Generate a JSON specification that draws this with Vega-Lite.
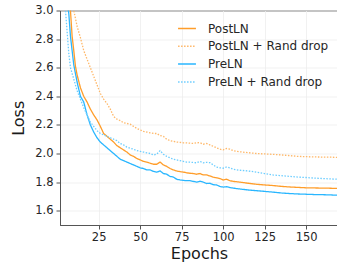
{
  "$schema": "https://vega.github.io/schema/vega-lite/v6.json",
  "autosize": "none",
  "padding": {"left": 60, "top": 10.5, "right": 0, "bottom": 41},
  "width": 278,
  "height": 214.5,
  "background": "white",
  "config": {
    "font": "DejaVu Sans",
    "view": {"stroke": "#555555", "strokeWidth": 1},
    "axis": {"labelFont": "DejaVu Sans", "titleFont": "DejaVu Sans", "labelFontSize": 11.5, "labelColor": "#262626", "titleFontSize": 16, "titleFontWeight": "normal", "titleColor": "#1a1a1a", "gridColor": "#eeeeee", "gridWidth": 0.8, "domainColor": "#555555", "tickColor": "#555555", "domainWidth": 1},
    "legend": {"labelFont": "DejaVu Sans", "labelFontSize": 12, "labelColor": "#262626"}
  },
  "data": {"values": [
    {"series":"PreLN","epoch":2,"loss":3.8},{"series":"PreLN","epoch":4,"loss":3.25},{"series":"PreLN","epoch":6,"loss":3.05},{"series":"PreLN","epoch":7,"loss":2.98},{"series":"PreLN","epoch":8,"loss":2.82},{"series":"PreLN","epoch":9,"loss":2.72},{"series":"PreLN","epoch":10,"loss":2.62},{"series":"PreLN","epoch":12,"loss":2.5},{"series":"PreLN","epoch":14,"loss":2.4},{"series":"PreLN","epoch":16,"loss":2.36},{"series":"PreLN","epoch":18,"loss":2.27},{"series":"PreLN","epoch":20,"loss":2.2},{"series":"PreLN","epoch":22,"loss":2.15},{"series":"PreLN","epoch":24,"loss":2.11},{"series":"PreLN","epoch":26,"loss":2.08},{"series":"PreLN","epoch":28,"loss":2.06},{"series":"PreLN","epoch":30,"loss":2.04},{"series":"PreLN","epoch":32,"loss":2.02},{"series":"PreLN","epoch":34,"loss":2.0},{"series":"PreLN","epoch":36,"loss":1.98},{"series":"PreLN","epoch":38,"loss":1.96},{"series":"PreLN","epoch":40,"loss":1.95},{"series":"PreLN","epoch":42,"loss":1.94},{"series":"PreLN","epoch":44,"loss":1.93},{"series":"PreLN","epoch":46,"loss":1.92},{"series":"PreLN","epoch":48,"loss":1.91},{"series":"PreLN","epoch":50,"loss":1.9},{"series":"PreLN","epoch":52,"loss":1.895},{"series":"PreLN","epoch":54,"loss":1.885},{"series":"PreLN","epoch":56,"loss":1.885},{"series":"PreLN","epoch":58,"loss":1.875},{"series":"PreLN","epoch":60,"loss":1.87},{"series":"PreLN","epoch":62,"loss":1.878},{"series":"PreLN","epoch":64,"loss":1.86},{"series":"PreLN","epoch":66,"loss":1.855},{"series":"PreLN","epoch":68,"loss":1.84},{"series":"PreLN","epoch":70,"loss":1.835},{"series":"PreLN","epoch":72,"loss":1.82},{"series":"PreLN","epoch":74,"loss":1.815},{"series":"PreLN","epoch":76,"loss":1.812},{"series":"PreLN","epoch":78,"loss":1.81},{"series":"PreLN","epoch":80,"loss":1.81},{"series":"PreLN","epoch":82,"loss":1.805},{"series":"PreLN","epoch":84,"loss":1.8},{"series":"PreLN","epoch":86,"loss":1.806},{"series":"PreLN","epoch":88,"loss":1.8},{"series":"PreLN","epoch":90,"loss":1.79},{"series":"PreLN","epoch":92,"loss":1.792},{"series":"PreLN","epoch":94,"loss":1.782},{"series":"PreLN","epoch":96,"loss":1.78},{"series":"PreLN","epoch":98,"loss":1.77},{"series":"PreLN","epoch":100,"loss":1.765},{"series":"PreLN","epoch":102,"loss":1.768},{"series":"PreLN","epoch":104,"loss":1.762},{"series":"PreLN","epoch":106,"loss":1.758},{"series":"PreLN","epoch":110,"loss":1.752},{"series":"PreLN","epoch":115,"loss":1.745},{"series":"PreLN","epoch":120,"loss":1.74},{"series":"PreLN","epoch":125,"loss":1.735},{"series":"PreLN","epoch":130,"loss":1.73},{"series":"PreLN","epoch":135,"loss":1.724},{"series":"PreLN","epoch":140,"loss":1.72},{"series":"PreLN","epoch":145,"loss":1.717},{"series":"PreLN","epoch":150,"loss":1.715},{"series":"PreLN","epoch":155,"loss":1.713},{"series":"PreLN","epoch":160,"loss":1.712},{"series":"PreLN","epoch":165,"loss":1.71},{"series":"PreLN","epoch":170,"loss":1.708},
    {"series":"PostLN","epoch":2,"loss":3.9},{"series":"PostLN","epoch":4,"loss":3.35},{"series":"PostLN","epoch":6,"loss":3.12},{"series":"PostLN","epoch":8,"loss":3.0},{"series":"PostLN","epoch":9,"loss":2.82},{"series":"PostLN","epoch":10,"loss":2.72},{"series":"PostLN","epoch":11,"loss":2.61},{"series":"PostLN","epoch":12,"loss":2.55},{"series":"PostLN","epoch":14,"loss":2.46},{"series":"PostLN","epoch":16,"loss":2.4},{"series":"PostLN","epoch":18,"loss":2.36},{"series":"PostLN","epoch":20,"loss":2.31},{"series":"PostLN","epoch":22,"loss":2.27},{"series":"PostLN","epoch":24,"loss":2.235},{"series":"PostLN","epoch":26,"loss":2.19},{"series":"PostLN","epoch":28,"loss":2.14},{"series":"PostLN","epoch":30,"loss":2.12},{"series":"PostLN","epoch":32,"loss":2.1},{"series":"PostLN","epoch":34,"loss":2.08},{"series":"PostLN","epoch":36,"loss":2.055},{"series":"PostLN","epoch":38,"loss":2.04},{"series":"PostLN","epoch":40,"loss":2.025},{"series":"PostLN","epoch":42,"loss":2.01},{"series":"PostLN","epoch":44,"loss":1.99},{"series":"PostLN","epoch":46,"loss":1.98},{"series":"PostLN","epoch":48,"loss":1.965},{"series":"PostLN","epoch":50,"loss":1.955},{"series":"PostLN","epoch":52,"loss":1.945},{"series":"PostLN","epoch":54,"loss":1.94},{"series":"PostLN","epoch":56,"loss":1.932},{"series":"PostLN","epoch":58,"loss":1.925},{"series":"PostLN","epoch":60,"loss":1.925},{"series":"PostLN","epoch":62,"loss":1.94},{"series":"PostLN","epoch":64,"loss":1.92},{"series":"PostLN","epoch":66,"loss":1.91},{"series":"PostLN","epoch":68,"loss":1.895},{"series":"PostLN","epoch":70,"loss":1.885},{"series":"PostLN","epoch":72,"loss":1.878},{"series":"PostLN","epoch":74,"loss":1.873},{"series":"PostLN","epoch":76,"loss":1.87},{"series":"PostLN","epoch":78,"loss":1.865},{"series":"PostLN","epoch":80,"loss":1.862},{"series":"PostLN","epoch":82,"loss":1.86},{"series":"PostLN","epoch":84,"loss":1.855},{"series":"PostLN","epoch":86,"loss":1.86},{"series":"PostLN","epoch":88,"loss":1.85},{"series":"PostLN","epoch":90,"loss":1.85},{"series":"PostLN","epoch":92,"loss":1.843},{"series":"PostLN","epoch":94,"loss":1.835},{"series":"PostLN","epoch":96,"loss":1.83},{"series":"PostLN","epoch":98,"loss":1.825},{"series":"PostLN","epoch":100,"loss":1.815},{"series":"PostLN","epoch":102,"loss":1.82},{"series":"PostLN","epoch":104,"loss":1.81},{"series":"PostLN","epoch":106,"loss":1.805},{"series":"PostLN","epoch":110,"loss":1.8},{"series":"PostLN","epoch":115,"loss":1.792},{"series":"PostLN","epoch":120,"loss":1.785},{"series":"PostLN","epoch":125,"loss":1.78},{"series":"PostLN","epoch":130,"loss":1.776},{"series":"PostLN","epoch":135,"loss":1.77},{"series":"PostLN","epoch":140,"loss":1.766},{"series":"PostLN","epoch":145,"loss":1.763},{"series":"PostLN","epoch":150,"loss":1.76},{"series":"PostLN","epoch":155,"loss":1.759},{"series":"PostLN","epoch":160,"loss":1.758},{"series":"PostLN","epoch":165,"loss":1.757},{"series":"PostLN","epoch":170,"loss":1.755},
    {"series":"PreLN + Rand drop","epoch":2,"loss":3.5},{"series":"PreLN + Rand drop","epoch":4,"loss":3.1},{"series":"PreLN + Rand drop","epoch":5,"loss":3.0},{"series":"PreLN + Rand drop","epoch":6,"loss":2.85},{"series":"PreLN + Rand drop","epoch":7,"loss":2.7},{"series":"PreLN + Rand drop","epoch":8,"loss":2.6},{"series":"PreLN + Rand drop","epoch":10,"loss":2.52},{"series":"PreLN + Rand drop","epoch":12,"loss":2.44},{"series":"PreLN + Rand drop","epoch":14,"loss":2.38},{"series":"PreLN + Rand drop","epoch":16,"loss":2.32},{"series":"PreLN + Rand drop","epoch":18,"loss":2.27},{"series":"PreLN + Rand drop","epoch":20,"loss":2.22},{"series":"PreLN + Rand drop","epoch":22,"loss":2.19},{"series":"PreLN + Rand drop","epoch":24,"loss":2.16},{"series":"PreLN + Rand drop","epoch":26,"loss":2.14},{"series":"PreLN + Rand drop","epoch":28,"loss":2.13},{"series":"PreLN + Rand drop","epoch":30,"loss":2.12},{"series":"PreLN + Rand drop","epoch":32,"loss":2.11},{"series":"PreLN + Rand drop","epoch":34,"loss":2.1},{"series":"PreLN + Rand drop","epoch":36,"loss":2.09},{"series":"PreLN + Rand drop","epoch":38,"loss":2.07},{"series":"PreLN + Rand drop","epoch":40,"loss":2.06},{"series":"PreLN + Rand drop","epoch":42,"loss":2.045},{"series":"PreLN + Rand drop","epoch":44,"loss":2.037},{"series":"PreLN + Rand drop","epoch":46,"loss":2.03},{"series":"PreLN + Rand drop","epoch":48,"loss":2.02},{"series":"PreLN + Rand drop","epoch":50,"loss":2.015},{"series":"PreLN + Rand drop","epoch":52,"loss":2.01},{"series":"PreLN + Rand drop","epoch":54,"loss":2.005},{"series":"PreLN + Rand drop","epoch":56,"loss":2.0},{"series":"PreLN + Rand drop","epoch":58,"loss":1.99},{"series":"PreLN + Rand drop","epoch":60,"loss":1.995},{"series":"PreLN + Rand drop","epoch":62,"loss":2.02},{"series":"PreLN + Rand drop","epoch":64,"loss":1.995},{"series":"PreLN + Rand drop","epoch":66,"loss":1.98},{"series":"PreLN + Rand drop","epoch":68,"loss":1.97},{"series":"PreLN + Rand drop","epoch":70,"loss":1.96},{"series":"PreLN + Rand drop","epoch":72,"loss":1.955},{"series":"PreLN + Rand drop","epoch":74,"loss":1.95},{"series":"PreLN + Rand drop","epoch":76,"loss":1.945},{"series":"PreLN + Rand drop","epoch":78,"loss":1.94},{"series":"PreLN + Rand drop","epoch":80,"loss":1.94},{"series":"PreLN + Rand drop","epoch":82,"loss":1.937},{"series":"PreLN + Rand drop","epoch":84,"loss":1.935},{"series":"PreLN + Rand drop","epoch":86,"loss":1.945},{"series":"PreLN + Rand drop","epoch":88,"loss":1.935},{"series":"PreLN + Rand drop","epoch":90,"loss":1.938},{"series":"PreLN + Rand drop","epoch":92,"loss":1.936},{"series":"PreLN + Rand drop","epoch":94,"loss":1.92},{"series":"PreLN + Rand drop","epoch":96,"loss":1.905},{"series":"PreLN + Rand drop","epoch":98,"loss":1.9},{"series":"PreLN + Rand drop","epoch":100,"loss":1.897},{"series":"PreLN + Rand drop","epoch":102,"loss":1.905},{"series":"PreLN + Rand drop","epoch":104,"loss":1.9},{"series":"PreLN + Rand drop","epoch":106,"loss":1.89},{"series":"PreLN + Rand drop","epoch":110,"loss":1.883},{"series":"PreLN + Rand drop","epoch":115,"loss":1.878},{"series":"PreLN + Rand drop","epoch":120,"loss":1.87},{"series":"PreLN + Rand drop","epoch":125,"loss":1.86},{"series":"PreLN + Rand drop","epoch":130,"loss":1.85},{"series":"PreLN + Rand drop","epoch":135,"loss":1.845},{"series":"PreLN + Rand drop","epoch":140,"loss":1.84},{"series":"PreLN + Rand drop","epoch":145,"loss":1.835},{"series":"PreLN + Rand drop","epoch":150,"loss":1.832},{"series":"PreLN + Rand drop","epoch":155,"loss":1.828},{"series":"PreLN + Rand drop","epoch":160,"loss":1.825},{"series":"PreLN + Rand drop","epoch":165,"loss":1.822},{"series":"PreLN + Rand drop","epoch":170,"loss":1.82},
    {"series":"PostLN + Rand drop","epoch":2,"loss":4.0},{"series":"PostLN + Rand drop","epoch":6,"loss":3.4},{"series":"PostLN + Rand drop","epoch":8,"loss":3.15},{"series":"PostLN + Rand drop","epoch":10,"loss":3.0},{"series":"PostLN + Rand drop","epoch":12,"loss":2.89},{"series":"PostLN + Rand drop","epoch":14,"loss":2.81},{"series":"PostLN + Rand drop","epoch":16,"loss":2.72},{"series":"PostLN + Rand drop","epoch":18,"loss":2.66},{"series":"PostLN + Rand drop","epoch":20,"loss":2.6},{"series":"PostLN + Rand drop","epoch":22,"loss":2.54},{"series":"PostLN + Rand drop","epoch":24,"loss":2.48},{"series":"PostLN + Rand drop","epoch":26,"loss":2.42},{"series":"PostLN + Rand drop","epoch":28,"loss":2.38},{"series":"PostLN + Rand drop","epoch":30,"loss":2.35},{"series":"PostLN + Rand drop","epoch":32,"loss":2.31},{"series":"PostLN + Rand drop","epoch":34,"loss":2.26},{"series":"PostLN + Rand drop","epoch":36,"loss":2.24},{"series":"PostLN + Rand drop","epoch":38,"loss":2.23},{"series":"PostLN + Rand drop","epoch":40,"loss":2.215},{"series":"PostLN + Rand drop","epoch":42,"loss":2.21},{"series":"PostLN + Rand drop","epoch":44,"loss":2.205},{"series":"PostLN + Rand drop","epoch":46,"loss":2.19},{"series":"PostLN + Rand drop","epoch":48,"loss":2.175},{"series":"PostLN + Rand drop","epoch":50,"loss":2.165},{"series":"PostLN + Rand drop","epoch":52,"loss":2.155},{"series":"PostLN + Rand drop","epoch":54,"loss":2.15},{"series":"PostLN + Rand drop","epoch":56,"loss":2.145},{"series":"PostLN + Rand drop","epoch":58,"loss":2.14},{"series":"PostLN + Rand drop","epoch":60,"loss":2.14},{"series":"PostLN + Rand drop","epoch":62,"loss":2.125},{"series":"PostLN + Rand drop","epoch":64,"loss":2.12},{"series":"PostLN + Rand drop","epoch":66,"loss":2.1},{"series":"PostLN + Rand drop","epoch":68,"loss":2.09},{"series":"PostLN + Rand drop","epoch":70,"loss":2.085},{"series":"PostLN + Rand drop","epoch":72,"loss":2.08},{"series":"PostLN + Rand drop","epoch":74,"loss":2.078},{"series":"PostLN + Rand drop","epoch":76,"loss":2.075},{"series":"PostLN + Rand drop","epoch":78,"loss":2.075},{"series":"PostLN + Rand drop","epoch":80,"loss":2.072},{"series":"PostLN + Rand drop","epoch":82,"loss":2.07},{"series":"PostLN + Rand drop","epoch":84,"loss":2.075},{"series":"PostLN + Rand drop","epoch":86,"loss":2.076},{"series":"PostLN + Rand drop","epoch":88,"loss":2.065},{"series":"PostLN + Rand drop","epoch":90,"loss":2.07},{"series":"PostLN + Rand drop","epoch":92,"loss":2.06},{"series":"PostLN + Rand drop","epoch":94,"loss":2.05},{"series":"PostLN + Rand drop","epoch":96,"loss":2.04},{"series":"PostLN + Rand drop","epoch":98,"loss":2.03},{"series":"PostLN + Rand drop","epoch":100,"loss":2.025},{"series":"PostLN + Rand drop","epoch":102,"loss":2.035},{"series":"PostLN + Rand drop","epoch":104,"loss":2.03},{"series":"PostLN + Rand drop","epoch":106,"loss":2.02},{"series":"PostLN + Rand drop","epoch":110,"loss":2.012},{"series":"PostLN + Rand drop","epoch":115,"loss":2.006},{"series":"PostLN + Rand drop","epoch":120,"loss":2.0},{"series":"PostLN + Rand drop","epoch":125,"loss":1.997},{"series":"PostLN + Rand drop","epoch":130,"loss":1.994},{"series":"PostLN + Rand drop","epoch":135,"loss":1.99},{"series":"PostLN + Rand drop","epoch":140,"loss":1.985},{"series":"PostLN + Rand drop","epoch":145,"loss":1.98},{"series":"PostLN + Rand drop","epoch":150,"loss":1.978},{"series":"PostLN + Rand drop","epoch":155,"loss":1.976},{"series":"PostLN + Rand drop","epoch":160,"loss":1.975},{"series":"PostLN + Rand drop","epoch":165,"loss":1.974},{"series":"PostLN + Rand drop","epoch":170,"loss":1.973}
  ]},
  "mark": {"type": "line", "clip": true, "strokeWidth": 1.3},
  "encoding": {
    "x": {"field": "epoch", "type": "quantitative", "title": "Epochs",
      "scale": {"domain": [1.7, 169.2], "nice": false, "zero": false},
      "axis": {"values": [25, 50, 75, 100, 125, 150], "tickSize": 4, "labelPadding": 2, "titlePadding": 3, "grid": true}},
    "y": {"field": "loss", "type": "quantitative", "title": "Loss",
      "scale": {"domain": [1.5, 3.0], "nice": false, "zero": false},
      "axis": {"values": [1.6, 1.8, 2.0, 2.2, 2.4, 2.6, 2.8, 3.0], "format": ".1f", "tickSize": 4, "labelPadding": 3, "titlePadding": 8, "grid": true}},
    "color": {"field": "series", "type": "nominal", "title": null,
      "scale": {"domain": ["PostLN", "PostLN + Rand drop", "PreLN", "PreLN + Rand drop"], "range": ["#ff9d2a", "#ffb869", "#29b6ff", "#6ccdff"]},
      "legend": {"orient": "none", "legendX": 117, "legendY": 8, "symbolType": "stroke", "symbolSize": 320, "symbolStrokeWidth": 1.5, "labelOffset": 11, "rowPadding": 1.8, "padding": 0}},
    "strokeDash": {"field": "series", "type": "nominal", "title": null,
      "scale": {"domain": ["PostLN", "PostLN + Rand drop", "PreLN", "PreLN + Rand drop"], "range": [[1, 0], [1.5, 1.5], [1, 0], [1.5, 1.5]]}}
  }
}
